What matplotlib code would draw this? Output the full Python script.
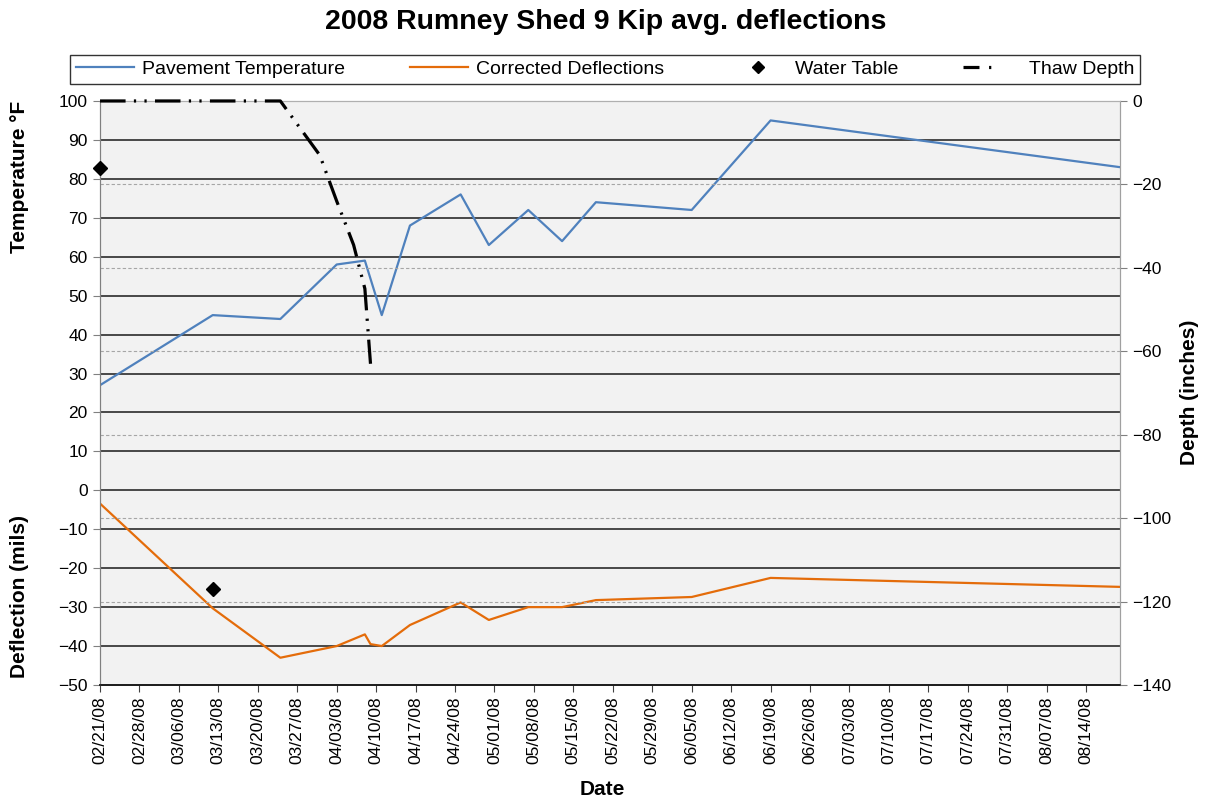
import numpy as np
import matplotlib
matplotlib.use("Agg")
import matplotlib.pyplot as plt
import matplotlib.dates as mdates
from matplotlib.lines import Line2D

plt.rcParams['font.family'] = ['Liberation Sans', 'DejaVu Sans']

# ---- data ----
temp_dates = np.array(['2008-02-21', '2008-03-12', '2008-03-24', '2008-04-03', '2008-04-08',
                       '2008-04-11', '2008-04-16', '2008-04-25', '2008-04-30', '2008-05-07',
                       '2008-05-13', '2008-05-19', '2008-06-05', '2008-06-19', '2008-08-20'],
                      dtype='datetime64[D]')
temp_vals = [27, 45, 44, 58, 59, 45, 68, 76, 63, 72, 64, 74, 72, 95, 83]

defl_dates = np.array(['2008-02-21', '2008-03-12', '2008-03-24', '2008-04-03', '2008-04-08',
                       '2008-04-09', '2008-04-11', '2008-04-16', '2008-04-25', '2008-04-30',
                       '2008-05-07', '2008-05-13', '2008-05-19', '2008-06-05', '2008-06-19',
                       '2008-08-20'], dtype='datetime64[D]')
defl_vals = [-3.4, -30.3, -43, -40, -37, -39.5, -40, -34.6, -28.8, -33.3,
             -30, -30, -28.2, -27.4, -22.5, -24.8]

water_dates = np.array(['2008-02-21', '2008-03-12'], dtype='datetime64[D]')
water_vals = [-16, -117]

thaw_dates = np.array(['2008-02-21', '2008-03-12', '2008-03-24', '2008-03-31', '2008-04-03',
                       '2008-04-06', '2008-04-08', '2008-04-09'], dtype='datetime64[D]')
thaw_vals = [0, 0, 0, -13, -24, -34.5, -45, -63]

left_ticks = list(range(-50, 101, 10))
right_ticks = list(range(-140, 1, 20))
x_start = np.datetime64('2008-02-21')
x_end = np.datetime64('2008-08-20')

# ---- figure ----
fig = plt.figure(figsize=(12.11, 8.02), dpi=100)
ax = fig.add_axes([0.0826, 0.1459, 0.8422, 0.7282])
ax.set_facecolor('#f2f2f2')
ax2 = ax.twinx()

ax.set_xlim(x_start, x_end)
ax.set_ylim(-50, 100)
ax2.set_ylim(-140, 0)

# gridlines
for v in left_ticks[1:-1]:
    ax.axhline(v, color='#1a1a1a', lw=1.1, zorder=1)
for v in right_ticks[1:-1]:
    ax2.axhline(v, color='#a6a6a6', lw=0.8, ls=(0, (3, 2)), zorder=1)

# series
ax.plot(temp_dates, temp_vals, color='#4F81BD', lw=1.6, zorder=3)
ax.plot(defl_dates, defl_vals, color='#E46C0A', lw=1.6, zorder=3)
ax2.plot(thaw_dates, thaw_vals, color='black', lw=2.3,
         ls=(0, (8, 2.6, 0.7, 2.6, 0.7, 2.6)), solid_capstyle='butt',
         dash_capstyle='butt', clip_on=False, zorder=4)
ax2.plot(water_dates, water_vals, ls='none', marker='D', ms=7.5, color='black',
         clip_on=False, zorder=5)

# ticks
xt = np.arange(x_start, x_end, 7)
ax.set_xticks(xt)
ax.xaxis.set_major_formatter(mdates.DateFormatter('%m/%d/%y'))
for lbl in ax.get_xticklabels():
    lbl.set_rotation(90)
ax.set_yticks(left_ticks)
ax2.set_yticks(right_ticks)
ax.tick_params(axis='x', labelsize=12.5, length=5, direction='out', color='#404040', pad=3)
ax.tick_params(axis='y', labelsize=12.5, length=5, direction='out', color='#808080', pad=4)
ax2.tick_params(axis='y', labelsize=12.5, length=5, direction='out', color='#808080', pad=4)

for a in (ax, ax2):
    a.spines['top'].set_color('#b0b0b0')
    a.spines['left'].set_color('#808080')
    a.spines['right'].set_color('#a0a0a0')
    a.spines['bottom'].set_color('#1a1a1a')
    a.spines['bottom'].set_linewidth(1.2)

# labels
fig.text(0.5, 0.972, '2008 Rumney Shed 9 Kip avg. deflections', ha='center', va='center',
         fontsize=20.5, fontweight='bold')
fig.text(0.0165, 0.779, 'Temperature °F', rotation=90, ha='center', va='center',
         fontsize=15, fontweight='bold')
fig.text(0.0165, 0.256, 'Deflection (mils)', rotation=90, ha='center', va='center',
         fontsize=15, fontweight='bold')
fig.text(0.9826, 0.511, 'Depth (inches)', rotation=90, ha='center', va='center',
         fontsize=15, fontweight='bold')
fig.text(0.497, 0.015, 'Date', ha='center', va='center', fontsize=15, fontweight='bold')

# legend
handles = [
    Line2D([], [], color='#4F81BD', lw=1.6),
    Line2D([], [], color='#E46C0A', lw=1.6),
    Line2D([], [], ls='none', marker='D', ms=6, color='black'),
    Line2D([], [], color='black', lw=2.3, ls=(0, (5, 3, 0.7, 30))),
]
labels = ['Pavement Temperature', 'Corrected Deflections', 'Water Table', 'Thaw Depth']
leg = fig.legend(handles, labels, loc='lower left', ncol=4,
                 bbox_to_anchor=(70 / 1211, 1 - 84 / 802, 1070 / 1211, 34 / 802),
                 mode='expand', fontsize=14, frameon=True, fancybox=False,
                 edgecolor='black', handlelength=3.0, handletextpad=0.4,
                 borderpad=0.3, borderaxespad=0)
leg.get_frame().set_linewidth(1.0)

fig.savefig('out.png', dpi=100)
